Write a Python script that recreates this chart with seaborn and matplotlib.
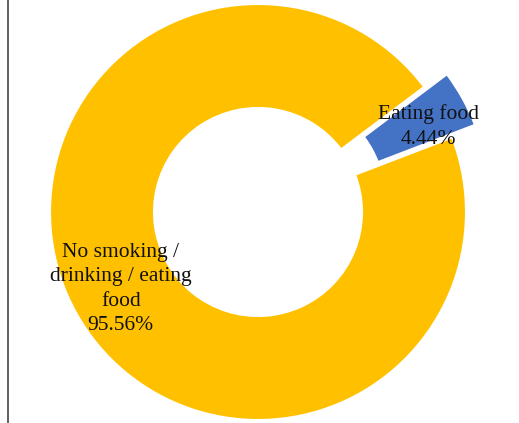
import matplotlib
matplotlib.use("Agg")
import matplotlib.pyplot as plt
import seaborn as sns

sns.set_theme(style="white")
plt.rcParams["font.family"] = ["Liberation Serif", "DejaVu Serif"]

# Share of respondents by behaviour
categories = ["Eating food", "No smoking /\ndrinking / eating\nfood"]
shares = [4.44, 95.56]
colors = ["#4472C4", "#FFC000"]
explode = [0.125, 0.0]

fig = plt.figure(figsize=(5.19, 4.23), dpi=100)
ax = fig.add_axes([0, 0, 1, 1])

wedges, _ = ax.pie(
    shares,
    colors=colors,
    explode=explode,
    startangle=21,
    counterclock=True,
    radius=1.0,
    wedgeprops=dict(width=0.5, edgecolor="white", linewidth=1.5),
)

# Labels with category name and percentage
label_pos = [(0.82, 0.41), (-0.66, -0.37)]
for name, val, (lx, ly) in zip(categories, shares, label_pos):
    ax.text(lx, ly, f"{name}\n{val:.2f}%", ha="center", va="center",
            fontsize=15.5, color="#111111", linespacing=1.4)

ax.set_aspect("auto")
ax.set_xlim(-258 / 208, (519 - 258) / 208)
ax.set_ylim(-211 / 208, 212 / 208)
ax.axis("off")

# Thin frame line on the left edge
fig.add_artist(plt.Line2D([7.5 / 519, 7.5 / 519], [0, 1], transform=fig.transFigure,
                          color="#444444", linewidth=1.2))

fig.savefig("out.png", dpi=100, facecolor="white")
